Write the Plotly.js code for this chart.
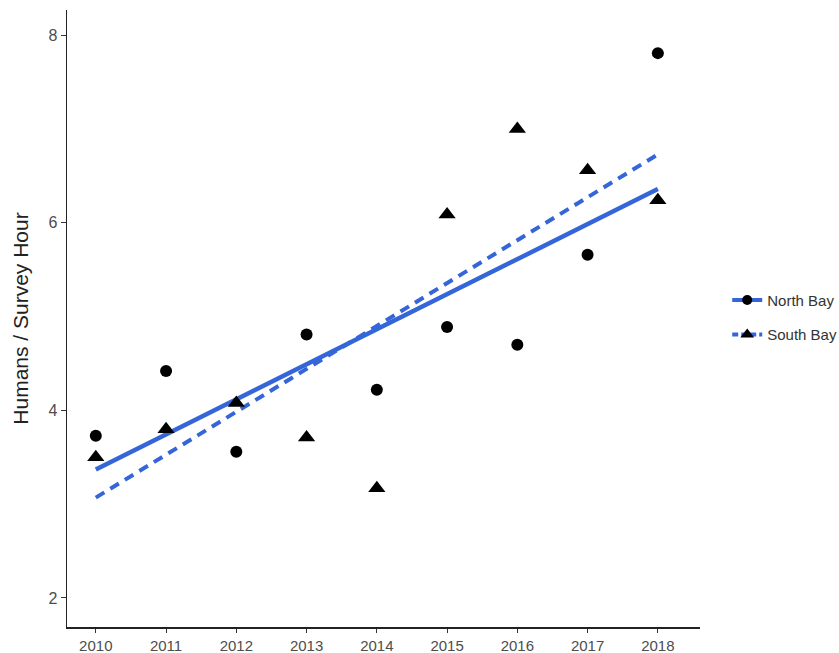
<!DOCTYPE html>
<html>
<head>
<meta charset="utf-8">
<script src="https://cdn.plot.ly/plotly-3.0.1.min.js"></script>
<style>
html,body{margin:0;padding:0;background:#fff;}
#chart{width:839px;height:653px;}
</style>
</head>
<body>
<div id="chart"></div>
<script>
// Data
const years = [2010, 2011, 2012, 2013, 2014, 2015, 2016, 2017, 2018];
const northBay = [3.73, 4.42, 3.56, 4.81, 4.22, 4.89, 4.70, 5.66, 7.81];
const southBay = [3.50, 3.80, 4.08, 3.71, 3.17, 6.09, 7.00, 6.56, 6.24];
// Fitted trend lines (end points)
const fitYears = [2010, 2018];
const northFit = [3.37, 6.36];
const southFit = [3.07, 6.73];
const seriesNames = ['North Bay', 'South Bay'];
const yTicks = [2, 4, 6, 8];

const blue = '#3465d9';
const traces = [
  {x: fitYears, y: northFit, mode: 'lines', line: {color: blue, width: 4.5}, showlegend: false, hoverinfo: 'skip'},
  {x: fitYears, y: southFit, mode: 'lines', line: {color: blue, width: 4, dash: '10px,7px'}, showlegend: false, hoverinfo: 'skip'},
  {x: years, y: northBay, mode: 'markers', marker: {symbol: 'circle', size: 12, color: '#000'}, showlegend: false},
  {x: years, y: southBay, mode: 'markers', marker: {symbol: 'triangle-up', size: 15, color: '#000'}, showlegend: false},
  {x: [null], y: [null], name: seriesNames[0], legendgroup: 'n', mode: 'lines+markers',
   line: {color: blue, width: 4}, marker: {symbol: 'circle', size: 10, color: '#000'}},
  {x: [null], y: [null], name: seriesNames[1], legendgroup: 's', mode: 'lines+markers',
   line: {color: blue, width: 4, dash: '6px,3px'}, marker: {symbol: 'triangle-up', size: 12, color: '#000'}}
];

const layout = {
  width: 839, height: 653,
  margin: {l: 67, r: 139, t: 10, b: 26, autoexpand: false},
  paper_bgcolor: '#fff', plot_bgcolor: '#fff',
  font: {family: 'Liberation Sans, Arial, sans-serif', color: '#4d4d4d', size: 15},
  xaxis: {
    range: [2009.59, 2018.6],
    tickvals: years, ticktext: years.map(String),
    showgrid: false, zeroline: false,
    showline: true, linecolor: '#222', linewidth: 1.5,
    ticks: 'outside', ticklen: 4, tickcolor: '#333', tickwidth: 1,
    tickfont: {size: 15, color: '#4d4d4d'}
  },
  yaxis: {
    range: [1.69, 8.27],
    tickvals: yTicks,
    showgrid: false, zeroline: false,
    showline: true, linecolor: '#222', linewidth: 1.5,
    ticks: 'outside', ticklen: 5, tickcolor: '#333', tickwidth: 1,
    tickfont: {size: 16, color: '#4d4d4d'},
    title: {text: 'Humans / Survey Hour', font: {size: 21, color: '#222'}, standoff: 14}
  },
  legend: {
    x: 1.043, y: 0.502, xanchor: 'left', yanchor: 'middle',
    font: {size: 15, color: '#333'},
    itemwidth: 30, tracegroupgap: 12,
    traceorder: 'grouped', bgcolor: 'rgba(0,0,0,0)'
  },
  showlegend: true
};

Plotly.newPlot('chart', traces, layout, {displayModeBar: false, staticPlot: true});
</script>
</body>
</html>
